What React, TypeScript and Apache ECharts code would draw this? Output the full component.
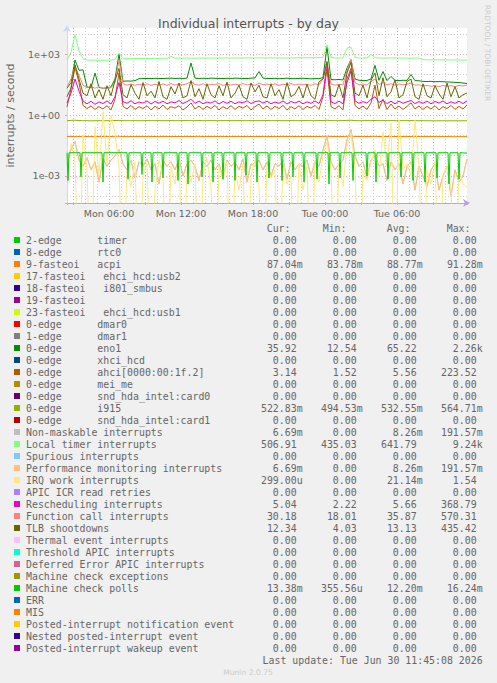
import React, { useEffect, useRef } from "react";
import * as echarts from "echarts";

// ---------- time base: 20-minute samples, Mon 02:30 .. Tue 11:50 ----------
const N = 101;
const START_H = 2.5;
const END_H = 2.5 + 100 / 3;
const hours: number[] = Array.from({ length: N }, (_, i) => START_H + i / 3);

// ---------- tick labels ----------
const xLabelHours = [6, 12, 18, 24, 30];
const xLabelTexts = ["Mon 06:00", "Mon 12:00", "Mon 18:00", "Tue 00:00", "Tue 06:00"];
const yLabelExps = [-3, 0, 3];
const yLabelTexts = ["1e-03", "1e+00", "1e+03"];
const Y_MIN = -4.33;
const Y_MAX = 4.29;

// ---------- series values (interrupts / second) ----------
const zeros: number[] = new Array(N).fill(0);

const acpi = [
  0.088, 0.089, 0.087, 0.088, 0.090, 0.088, 0.087, 0.089, 0.088, 0.088,
  0.089, 0.088, 0.090, 0.091, 0.088, 0.087, 0.088, 0.089, 0.088, 0.089,
  0.088, 0.089, 0.088, 0.087, 0.089, 0.088, 0.089, 0.088, 0.089, 0.088,
  0.089, 0.088, 0.089, 0.090, 0.088, 0.089, 0.088, 0.089, 0.088, 0.089,
  0.088, 0.089, 0.088, 0.089, 0.088, 0.089, 0.088, 0.089, 0.088, 0.089,
  0.089, 0.088, 0.089, 0.088, 0.089, 0.088, 0.089, 0.088, 0.089, 0.088,
  0.089, 0.088, 0.089, 0.088, 0.090, 0.091, 0.089, 0.088, 0.089, 0.088,
  0.090, 0.091, 0.089, 0.088, 0.089, 0.088, 0.089, 0.090, 0.088, 0.089,
  0.088, 0.089, 0.088, 0.089, 0.088, 0.087, 0.089, 0.088, 0.087, 0.088,
  0.087, 0.088, 0.087, 0.088, 0.087, 0.088, 0.087, 0.086, 0.087, 0.087,
  0.08704,
];

const eno1 = [
  21, 40, 520, 160, 170, 24, 22, 117, 23, 21,
  22, 24, 60, 1000, 46, 48, 47, 50, 62, 63,
  64, 63, 65, 64, 63, 65, 66, 64, 65, 64,
  66, 365, 66, 64, 65, 64, 66, 65, 64, 63,
  65, 64, 66, 65, 64, 63, 66, 68, 140, 66,
  64, 63, 65, 62, 64, 66, 63, 62, 64, 65,
  63, 61, 63, 62, 70, 2260, 56, 55, 57, 54,
  210, 530, 60, 52, 50, 51, 60, 280, 52, 140,
  50, 80, 51, 50, 52, 51, 100, 50, 49, 46,
  45, 46, 44, 45, 44, 43, 42, 41, 40, 38,
  35.92,
];

const ahci = [
  2.5, 20, 223, 40, 3, 2.1, 2.8, 1.9, 2.6, 2.0,
  2.9, 1.8, 6, 120, 2.7, 2.0, 3.0, 1.9, 2.6, 2.1,
  2.9, 1.8, 2.7, 2.0, 3.1, 1.9, 2.6, 2.2, 2.9, 1.8,
  2.5, 4, 2.0, 2.8, 1.9, 2.7, 2.1, 3.0, 1.8, 2.6,
  2.0, 2.9, 1.9, 2.7, 2.2, 3.0, 1.8, 2.6, 3.5, 2.0,
  2.8, 1.9, 2.7, 2.1, 3.0, 1.8, 2.6, 2.0, 2.9, 1.9,
  2.7, 2.2, 3.0, 1.9, 8, 180, 2.6, 2.0, 2.9, 1.8,
  60, 200, 3, 2.0, 2.8, 1.9, 4, 30, 2.1, 6,
  1.9, 3.5, 2.0, 2.8, 1.9, 2.7, 4, 2.0, 2.8, 1.9,
  2.7, 2.0, 2.9, 1.8, 2.6, 2.1, 3.0, 1.9, 2.7, 2.0,
  3.14,
];

const i915 = [
  0.53, 0.55, 0.56, 0.54, 0.53, 0.53, 0.52, 0.53, 0.53, 0.53,
  0.53, 0.53, 0.54, 0.55, 0.53, 0.53, 0.53, 0.53, 0.53, 0.53,
  0.535, 0.53, 0.53, 0.535, 0.53, 0.53, 0.535, 0.53, 0.53, 0.535,
  0.535, 0.53, 0.53, 0.535, 0.53, 0.53, 0.535, 0.53, 0.53, 0.535,
  0.535, 0.53, 0.53, 0.535, 0.53, 0.53, 0.535, 0.53, 0.53, 0.535,
  0.535, 0.53, 0.53, 0.535, 0.53, 0.53, 0.535, 0.53, 0.53, 0.535,
  0.535, 0.53, 0.53, 0.535, 0.54, 0.56, 0.535, 0.53, 0.53, 0.535,
  0.55, 0.56, 0.535, 0.53, 0.53, 0.535, 0.53, 0.54, 0.53, 0.535,
  0.53, 0.535, 0.53, 0.53, 0.535, 0.53, 0.535, 0.53, 0.53, 0.53,
  0.525, 0.525, 0.52, 0.525, 0.525, 0.52, 0.525, 0.525, 0.52, 0.525,
  0.52283,
];

const localTimer = [
  520, 1200, 9240, 1500, 600, 520, 505, 510, 500, 505,
  500, 510, 560, 1130, 600, 605, 600, 610, 615, 610,
  620, 615, 625, 620, 630, 625, 780, 640, 635, 640,
  640, 645, 640, 645, 640, 650, 645, 640, 650, 645,
  650, 645, 650, 655, 650, 655, 650, 655, 660, 655,
  650, 655, 650, 655, 650, 650, 655, 660, 670, 665,
  670, 665, 670, 675, 700, 2900, 720, 650, 645, 650,
  2000, 2200, 700, 650, 645, 660, 1000, 680, 650, 645,
  650, 645, 650, 645, 640, 645, 640, 645, 640, 540,
  530, 525, 530, 525, 520, 525, 520, 515, 520, 510,
  506.91,
];

// Performance monitoring and Non-maskable interrupts report identical values
const perfMon = [
  0.004, 0.02, 0.05, 0.006, 0.003, 0.008, 0.002, 0.005, 0.0005, 0.007,
  0.003, 0.006, 0.01, 0.02, 0.004, 0.002, 0.006, 0.0008, 0.005, 0.003,
  0.007, 0.002, 0.004, 0.0004, 0.006, 0.003, 0.005, 0.002, 0.007, 0.001,
  0.004, 0.006, 0.003, 0.0006, 0.005, 0.003, 0.006, 0.002, 0.004, 0.0009,
  0.006, 0.003, 0.005, 0.002, 0.007, 0.0005, 0.004, 0.003, 0.006, 0.002,
  0.005, 0.001, 0.004, 0.003, 0.006, 0.0007, 0.005, 0.002, 0.004, 0.003,
  0.006, 0.001, 0.005, 0.003, 0.02, 0.09, 0.005, 0.002, 0.004, 0.006,
  0.06, 0.19, 0.01, 0.003, 0.005, 0.0008, 0.006, 0.01, 0.003, 0.004,
  0.0006, 0.005, 0.002, 0.004, 0.0004, 0.003, 0.005, 0.0002, 0.003, 0.001,
  0.0003, 0.002, 0.004, 0.0002, 0.001, 0.003, 0.0001, 0.002, 0.0005, 0.001,
  0.00669,
];

const irqWork = [
  0.003, 0.04, 0.006, 0, 0.1, 0.002, 0, 0.27, 0.001, 1.54,
  0.004, 1.0, 0.13, 0.003, 0, 0.002, 0.0003, 0.005, 0, 0.001,
  0.004, 0, 0.0002, 0.006, 0.001, 0, 0.003, 0.0004, 0.01, 0,
  0.002, 0.0005, 0.004, 0, 0.001, 0.008, 0.0003, 0, 0.003, 0.0006,
  0.005, 0, 0.002, 0.0002, 0.004, 0, 0.001, 0.006, 0.0003, 0,
  0.003, 0.0008, 0.002, 0, 0.005, 0.0004, 0.001, 0, 0.004, 0.0002,
  0.003, 0, 0.006, 0.0005, 0.01, 0.05, 0.002, 0, 0.004, 0.0003,
  0.03, 0.12, 0.003, 0, 0.002, 0.0006, 0.005, 0.02, 0.001, 0.15,
  0.003, 0.39, 0, 0.6, 0.002, 0.004, 0.001, 0.55, 0.003, 0,
  0.002, 0.0004, 0.005, 0, 0.001, 0.003, 0.0002, 0, 0.002, 0.0004,
  0.000299,
];

const rescheduling = [
  4, 12, 60, 15, 5, 3.6, 4.8, 3.4, 4.5, 3.7,
  5, 3.5, 8, 40, 4.6, 3.8, 5.1, 3.6, 4.4, 3.9,
  5, 3.5, 4.7, 3.8, 4.9, 3.6, 4.5, 4, 5.2, 3.7,
  4.6, 6, 3.8, 4.9, 3.6, 4.4, 3.9, 5, 3.5, 4.7,
  3.8, 4.8, 3.6, 4.5, 4, 5.1, 3.7, 4.6, 5, 3.9,
  4.8, 3.6, 4.4, 3.8, 5, 3.5, 4.7, 3.9, 4.9, 3.6,
  4.5, 3.8, 5, 3.7, 10, 369, 4.5, 3.7, 4.9, 3.6,
  40, 150, 5, 3.8, 4.6, 3.9, 6, 8, 4.2, 5.5,
  3.7, 4.8, 3.6, 4.9, 3.8, 4.5, 5.2, 3.7, 4.6, 3.8,
  4.9, 3.6, 4.7, 3.9, 5, 3.6, 4.5, 3.8, 4.8, 3.7,
  5.04,
];

const functionCall = [
  24, 60, 240, 90, 30, 22, 26, 21, 25, 20,
  24, 22, 40, 520, 35, 30, 34, 29, 33, 30,
  35, 29, 33, 30, 34, 29, 36, 30, 33, 31,
  35, 45, 32, 30, 35, 29, 33, 31, 36, 29,
  34, 30, 33, 31, 36, 30, 34, 29, 38, 31,
  34, 30, 35, 29, 33, 31, 36, 30, 34, 31,
  33, 29, 35, 31, 60, 400, 34, 30, 33, 31,
  150, 570, 40, 31, 34, 30, 45, 60, 32, 40,
  31, 35, 30, 34, 31, 33, 38, 30, 31, 27,
  29, 26, 28, 25, 29, 26, 28, 25, 29, 27,
  30.18,
];

const tlb = [
  8, 22, 300, 60, 12, 9, 35, 7, 18, 6,
  28, 9, 50, 200, 10, 7, 32, 12, 6, 40,
  9, 15, 7, 45, 8, 6, 25, 11, 38, 7,
  9, 50, 8, 20, 6, 35, 10, 7, 28, 9,
  42, 7, 12, 30, 8, 6, 38, 14, 30, 8,
  7, 35, 9, 18, 6, 40, 8, 11, 26, 7,
  33, 9, 6, 44, 60, 435, 10, 8, 32, 7,
  120, 400, 12, 9, 30, 7, 50, 120, 9, 70,
  8, 14, 55, 7, 10, 45, 60, 8, 6, 35,
  9, 7, 28, 11, 6, 38, 8, 25, 7, 10,
  12.34,
];

// Machine check polls: steady level with short hourly drops (minutes since Mon 00:00)
const mcBase = 0.014;
const mcDipMinutes = [
  155, 220, 330, 455, 525, 575, 630, 705, 755, 825, 880, 930, 990, 1045, 1100, 1160,
  1225, 1280, 1335, 1400, 1460, 1515, 1580, 1650, 1695, 1755, 1820, 1880, 1940, 2000,
  2060, 2110,
];
const mcDipValues = [
  0.0006, 0.0009, 0.0005, 0.0007, 0.0012, 0.0005, 0.0008, 0.0006, 0.0004, 0.0009,
  0.0005, 0.0007, 0.0006, 0.0011, 0.0005, 0.0008, 0.0006, 0.0009, 0.0005, 0.0007,
  0.0004, 0.0008, 0.0006, 0.0010, 0.0005, 0.0007, 0.0009, 0.0006, 0.0005, 0.0008,
  0.0004, 0.0007,
];
const mcEndValue = 0.01338;

// ---------- legend rows ----------
const names = [
  "2-edge      timer",
  "8-edge      rtc0",
  "9-fasteoi   acpi",
  "17-fasteoi   ehci_hcd:usb2",
  "18-fasteoi   i801_smbus",
  "19-fasteoi",
  "23-fasteoi   ehci_hcd:usb1",
  "0-edge      dmar0",
  "1-edge      dmar1",
  "0-edge      eno1",
  "0-edge      xhci_hcd",
  "0-edge      ahci[0000:00:1f.2]",
  "0-edge      mei_me",
  "0-edge      snd_hda_intel:card0",
  "0-edge      i915",
  "0-edge      snd_hda_intel:card1",
  "Non-maskable interrupts",
  "Local timer interrupts",
  "Spurious interrupts",
  "Performance monitoring interrupts",
  "IRQ work interrupts",
  "APIC ICR read retries",
  "Rescheduling interrupts",
  "Function call interrupts",
  "TLB shootdowns",
  "Thermal event interrupts",
  "Threshold APIC interrupts",
  "Deferred Error APIC interrupts",
  "Machine check exceptions",
  "Machine check polls",
  "ERR",
  "MIS",
  "Posted-interrupt notification event",
  "Nested posted-interrupt event",
  "Posted-interrupt wakeup event",
];

const colors = [
  "#00CC00", "#0066B3", "#FF8000", "#FFCC00", "#330099", "#990099", "#CCFF00",
  "#FF0000", "#808080", "#008F00", "#00487D", "#B35A00", "#B38F00", "#6B006B",
  "#8FB300", "#B30000", "#BEBEBE", "#80FF80", "#80C9FF", "#FFC080", "#FFE680",
  "#AA80FF", "#EE00CC", "#FF8080", "#666600", "#FFBFFF", "#00FFCC", "#CC6699",
  "#999900", "#00CC00", "#0066B3", "#FF8000", "#FFCC00", "#330099", "#990099",
];

const MC_POLLS_INDEX = 29;
const seriesValues = [
  zeros, zeros, acpi, zeros, zeros, zeros, zeros, zeros, zeros, eno1,
  zeros, ahci, zeros, zeros, i915, zeros, perfMon, localTimer, zeros, perfMon,
  irqWork, zeros, rescheduling, functionCall, tlb, zeros, zeros, zeros, zeros, null,
  zeros, zeros, zeros, zeros, zeros,
];

const curVals = [
  "0.00", "0.00", "87.04m", "0.00", "0.00", "0.00", "0.00", "0.00", "0.00", "35.92",
  "0.00", "3.14", "0.00", "0.00", "522.83m", "0.00", "6.69m", "506.91", "0.00", "6.69m",
  "299.00u", "0.00", "5.04", "30.18", "12.34", "0.00", "0.00", "0.00", "0.00", "13.38m",
  "0.00", "0.00", "0.00", "0.00", "0.00",
];
const minVals = [
  "0.00", "0.00", "83.78m", "0.00", "0.00", "0.00", "0.00", "0.00", "0.00", "12.54",
  "0.00", "1.52", "0.00", "0.00", "494.53m", "0.00", "0.00", "435.03", "0.00", "0.00",
  "0.00", "0.00", "2.22", "18.01", "4.03", "0.00", "0.00", "0.00", "0.00", "355.56u",
  "0.00", "0.00", "0.00", "0.00", "0.00",
];
const avgVals = [
  "0.00", "0.00", "88.77m", "0.00", "0.00", "0.00", "0.00", "0.00", "0.00", "65.22",
  "0.00", "5.56", "0.00", "0.00", "532.55m", "0.00", "8.26m", "641.79", "0.00", "8.26m",
  "21.14m", "0.00", "5.66", "35.87", "13.13", "0.00", "0.00", "0.00", "0.00", "12.20m",
  "0.00", "0.00", "0.00", "0.00", "0.00",
];
const maxVals = [
  "0.00", "0.00", "91.28m", "0.00", "0.00", "0.00", "0.00", "0.00", "0.00", "2.26k",
  "0.00", "223.52", "0.00", "0.00", "564.71m", "0.00", "191.57m", "9.24k", "0.00", "191.57m",
  "1.54", "0.00", "368.79", "570.31", "435.42", "0.00", "0.00", "0.00", "0.00", "16.24m",
  "0.00", "0.00", "0.00", "0.00", "0.00",
];
const colHeaders = ["Cur:", "Min:", "Avg:", "Max:"];
const lastUpdate = "Last update: Tue Jun 30 11:45:08 2026";

// ---------- styling ----------
const SANS = "DejaVu Sans, sans-serif";
const MONO = "DejaVu Sans Mono, monospace";
const TXT = "#666666";
const RED = "#f2a0a0";
const GRAY = "#cfcfcf";
const NBSP = "\u00A0";

const toLog = (v: number) => (v > 0 ? Math.log10(v) : -9);

function mcPollsData(): number[][] {
  const pts: number[][] = [[START_H, toLog(mcBase)]];
  mcDipMinutes.forEach((m, k) => {
    pts.push([(m - 5) / 60, toLog(mcBase)]);
    pts.push([m / 60, toLog(mcDipValues[k])]);
    pts.push([(m + 5) / 60, toLog(mcBase)]);
  });
  pts.push([END_H, toLog(mcEndValue)]);
  return pts;
}

function monoText(text: string, x: number, y: number, align: string) {
  return {
    type: "text",
    x,
    y,
    silent: true,
    style: {
      text,
      fill: TXT,
      fontSize: 9.9,
      fontFamily: MONO,
      textAlign: align,
      textVerticalAlign: "middle",
      align,
      verticalAlign: "middle",
    },
  };
}

function buildOption() {
  const series = names.map((nm, k) => ({
    type: "line",
    name: nm,
    xAxisIndex: 0,
    yAxisIndex: 0,
    data:
      k === MC_POLLS_INDEX
        ? mcPollsData()
        : hours.map((h, i) => [h, toLog((seriesValues[k] as number[])[i])]),
    showSymbol: false,
    symbol: "none",
    silent: true,
    clip: true,
    lineStyle: { width: 1, color: colors[k] },
    itemStyle: { color: colors[k] },
    z: 3,
  }));

  const g: any[] = [];
  const colRight = [302.6, 362.6, 422.6, 482.6];
  const headerLeft = [266.7, 322.7, 386.7, 446.7];
  colHeaders.forEach((h, c) => g.push(monoText(h, headerLeft[c], 228, "left")));
  const fmt = (s: string) => (/[a-zA-Z]$/.test(s) ? s : s + NBSP);
  names.forEach((nm, k) => {
    const y = 240 + 12 * k;
    g.push({
      type: "rect",
      x: 14,
      y: y - 3,
      silent: true,
      shape: { x: 0, y: 0, width: 6, height: 6 },
      style: { fill: colors[k] },
    });
    g.push(monoText(nm.replace(/ /g, NBSP), 26, y, "left"));
    [curVals, minVals, avgVals, maxVals].forEach((arr, c) =>
      g.push(monoText(fmt(arr[k]), colRight[c], y, "right"))
    );
  });
  g.push(monoText(lastUpdate, 482.6, 660, "right"));
  g.push({
    type: "text",
    x: 487,
    y: 53,
    rotation: -Math.PI / 2,
    silent: true,
    style: {
      text: "RRDTOOL / TOBI OETIKER",
      fill: "#cccccc",
      fontSize: 7.5,
      fontFamily: SANS,
      textAlign: "center",
      textVerticalAlign: "middle",
      align: "center",
      verticalAlign: "middle",
    },
  });
  g.push({
    type: "text",
    x: 248,
    y: 672,
    silent: true,
    style: {
      text: "Munin 2.0.75",
      fill: "#cccccc",
      fontSize: 7.6,
      fontFamily: SANS,
      textAlign: "center",
      textVerticalAlign: "middle",
      align: "center",
      verticalAlign: "middle",
    },
  });

  const dotted = (color: string) => ({
    show: true,
    showMinLine: false,
    showMaxLine: false,
    lineStyle: { color, width: 1, type: [1, 2] },
  });

  return {
    animation: false,
    backgroundColor: "#f0f0f0",
    title: {
      text: "Individual interrupts - by day",
      left: "center",
      top: 12,
      textStyle: { fontFamily: SANS, fontSize: 12.5, fontWeight: "normal", color: "#555555" },
    },
    tooltip: { show: false },
    grid: {
      left: 67,
      right: 30,
      top: 28,
      bottom: 480,
      show: true,
      backgroundColor: "#ffffff",
      borderWidth: 0,
      containLabel: false,
      outerBoundsMode: "none",
    },
    xAxis: [
      {
        type: "value",
        position: "bottom",
        min: START_H,
        max: END_H,
        splitNumber: 33,
        minInterval: 1,
        maxInterval: 1,
        axisLine: {
          show: true,
          onZero: false,
          lineStyle: { color: "#b7a0e8", width: 1 },
          symbol: ["none", "arrow"],
          symbolSize: [6, 7],
          symbolOffset: [0, 3],
        },
        axisTick: { show: false },
        axisLabel: { show: false },
        splitLine: dotted(GRAY),
      },
      {
        type: "value",
        position: "bottom",
        min: START_H,
        max: END_H,
        splitNumber: 11,
        minInterval: 3,
        maxInterval: 3,
        axisLine: { show: false, onZero: false },
        axisTick: { show: true, length: 2, lineStyle: { color: RED } },
        axisLabel: {
          show: true,
          margin: 5,
          color: TXT,
          fontFamily: SANS,
          fontSize: 9.5,
          formatter: (v: number) => {
            const idx = xLabelHours.indexOf(Math.round(v));
            return idx >= 0 && Math.abs(v - Math.round(v)) < 1e-6 ? xLabelTexts[idx] : "";
          },
        },
        splitLine: dotted(RED),
      },
    ],
    yAxis: [
      {
        type: "value",
        position: "left",
        min: Y_MIN,
        max: Y_MAX,
        splitNumber: 9,
        minInterval: 1,
        maxInterval: 1,
        axisLine: {
          show: true,
          onZero: false,
          lineStyle: { color: "#cfd6f8", width: 1 },
          symbol: ["none", "arrow"],
          symbolSize: [6, 7],
          symbolOffset: [0, 3],
        },
        axisTick: { show: false },
        axisLabel: { show: false },
        splitLine: dotted(GRAY),
      },
      {
        type: "value",
        position: "left",
        min: Y_MIN,
        max: Y_MAX,
        splitNumber: 3,
        minInterval: 3,
        maxInterval: 3,
        name: "interrupts / second",
        nameLocation: "middle",
        nameGap: 51,
        nameTextStyle: { fontFamily: SANS, fontSize: 11, color: TXT },
        axisLine: { show: false, onZero: false },
        axisTick: { show: true, length: 2, lineStyle: { color: RED } },
        axisLabel: {
          show: true,
          margin: 7,
          color: TXT,
          fontFamily: SANS,
          fontSize: 9.5,
          formatter: (v: number) => {
            const idx = yLabelExps.indexOf(Math.round(v));
            return idx >= 0 && Math.abs(v - Math.round(v)) < 1e-6 ? yLabelTexts[idx] : "";
          },
        },
        splitLine: dotted(RED),
      },
    ],
    series,
    graphic: g,
  };
}

export default function App() {
  const ref = useRef<HTMLDivElement>(null);
  useEffect(() => {
    document.body.style.margin = "0";
    if (!ref.current) return;
    const chart = echarts.init(ref.current, undefined, { renderer: "svg" });
    chart.setOption(buildOption() as any);
    return () => chart.dispose();
  }, []);
  return (
    <div style={{ position: "fixed", left: 0, top: 0, width: 497, height: 683 }}>
      <div ref={ref} style={{ width: 497, height: 683 }} />
    </div>
  );
}
